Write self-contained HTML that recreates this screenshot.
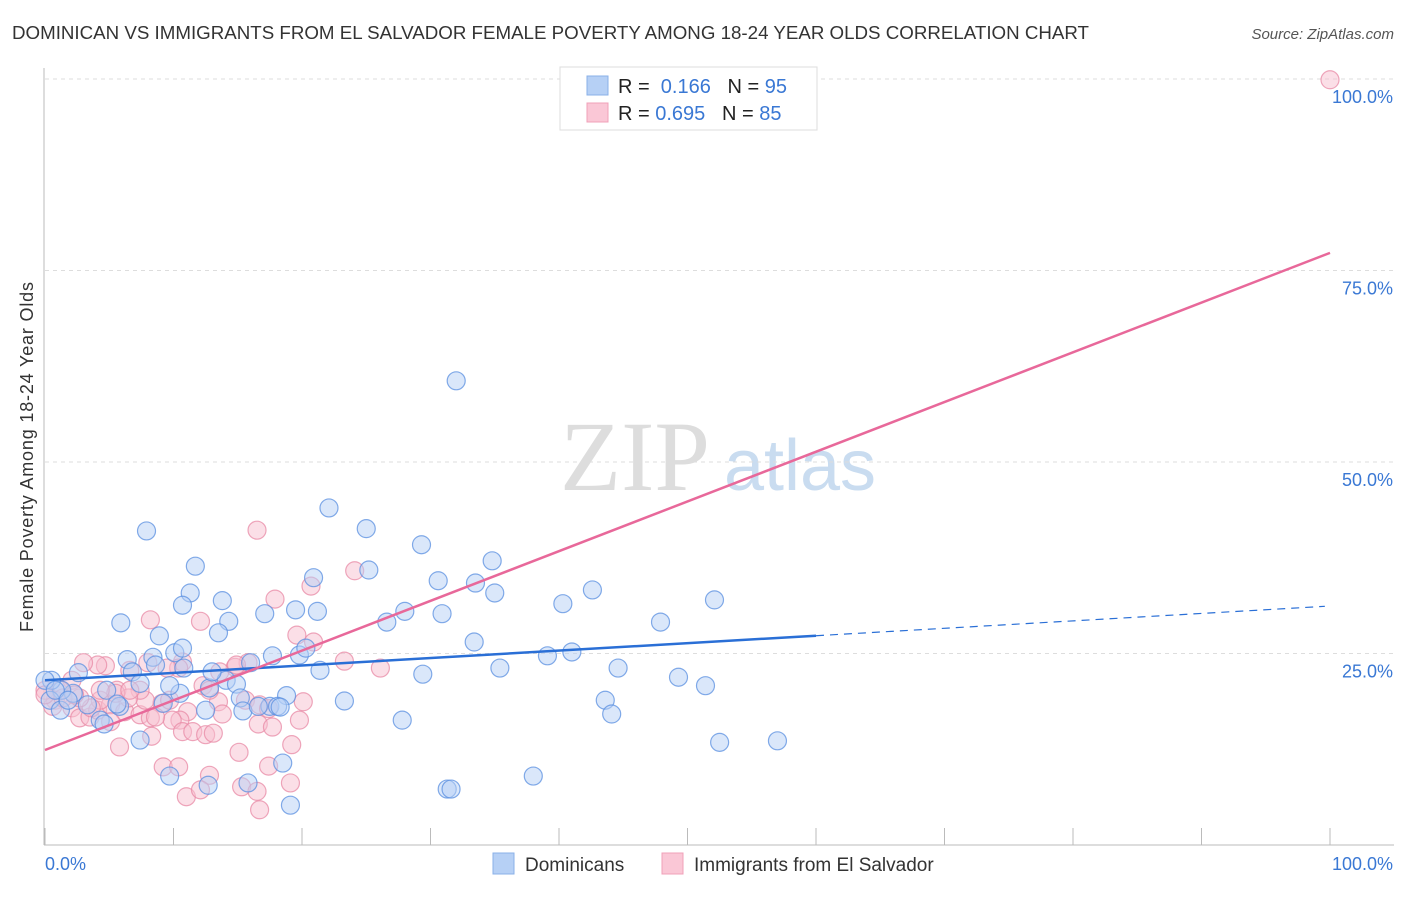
<!DOCTYPE html>
<html><head><meta charset="utf-8"><style>
body{margin:0;background:#fff;}
</style></head><body>
<svg id="chart" width="1406" height="892" viewBox="0 0 1406 892" font-family="Liberation Sans, sans-serif">
<text x="12" y="39" font-size="18" fill="#333" textLength="1077" lengthAdjust="spacingAndGlyphs">DOMINICAN VS IMMIGRANTS FROM EL SALVADOR FEMALE POVERTY AMONG 18-24 YEAR OLDS CORRELATION CHART</text>
<text x="1394" y="39" font-size="15" fill="#555" font-style="italic" text-anchor="end">Source: ZipAtlas.com</text>
<text x="33" y="457" font-size="18" fill="#333" text-anchor="middle" textLength="350" transform="rotate(-90 33 457)">Female Poverty Among 18-24 Year Olds</text>
<g>
<text x="635" y="490" font-size="100" fill="#ddd" font-family="Liberation Serif, serif" text-anchor="middle">ZIP</text>
<text x="800" y="490" font-size="72" fill="#c9dcf0" text-anchor="middle">atlas</text>
</g>
<g id="grid"></g><g id="axes"></g><g id="pts"></g><g id="lines"></g>
<g>
<rect x="560" y="67" width="257" height="63" fill="#fff" stroke="#ddd"/>
<rect x="587" y="76" width="21" height="19" fill="#b6d0f5" stroke="#8ab0e8"/>
<rect x="587" y="103" width="21" height="19" fill="#fac7d6" stroke="#f0a0b8"/>
<text x="618" y="93" font-size="20" fill="#222">R = <tspan fill="#3a78d4">&#160;0.166</tspan>&#160;&#160;&#160;N = <tspan fill="#3a78d4">95</tspan></text>
<text x="618" y="120" font-size="20" fill="#222">R = <tspan fill="#3a78d4">0.695</tspan>&#160;&#160;&#160;N = <tspan fill="#3a78d4">85</tspan></text>
</g>
<g>
<rect x="493" y="853" width="21" height="21" fill="#b6d0f5" stroke="#8ab0e8"/>
<text x="525" y="871" font-size="19" fill="#333">Dominicans</text>
<rect x="662" y="853" width="21" height="21" fill="#fac7d6" stroke="#f0a0b8"/>
<text x="694" y="871" font-size="19" fill="#333">Immigrants from El Salvador</text>
</g>
</svg>
<script>
const blueX=[7.9,11.7,11.3,10.7,13.8,14.3,13.5,5.9,8.9,6.4,8.4,10.1,10.8,8.6,6.8,7.4,4.8,2.6,2.2,1.3,0.5,0.4,1.2,3.3,4.3,4.6,5.8,5.6,7.4,9.7,10.5,9.2,12.5,12.8,14.1,14.9,13.0,15.2,15.4,16.0,17.1,17.7,18.8,17.5,18.1,18.3,16.6,19.8,20.3,19.5,20.9,21.2,21.4,22.1,23.3,25.0,25.2,26.6,28.0,29.3,30.6,30.9,32.0,33.4,33.5,34.8,35.0,35.4,29.4,27.8,39.1,40.3,41.0,42.6,43.6,44.1,44.6,47.9,49.3,51.4,52.1,52.5,57.0,38.0,31.3,31.6,19.1,18.5,15.8,12.7,10.7,9.7,0.0,0.8,1.8];
const blueY=[41.0,36.4,32.9,31.3,31.9,29.2,27.7,29.0,27.3,24.2,24.5,25.1,23.1,23.5,22.6,21.1,20.2,22.5,19.8,20.2,21.5,18.9,17.6,18.3,16.3,15.8,18.1,18.4,13.7,9.0,19.8,18.5,17.6,20.5,21.5,21.0,22.6,19.2,17.5,23.8,30.2,24.7,19.5,18.1,18.1,18.0,18.1,24.8,25.7,30.7,34.9,30.5,22.8,44.0,18.8,41.3,35.9,29.1,30.5,39.2,34.5,30.2,60.6,26.5,34.2,37.1,32.9,23.1,22.3,16.3,24.7,31.5,25.2,33.3,18.9,17.1,23.1,29.1,21.9,20.8,32.0,13.4,13.6,9.0,7.3,7.3,5.2,10.7,8.1,7.8,25.7,20.8,21.5,20.2,18.9];
const pinkX=[100,16.5,24.1,20.7,17.9,8.2,12.1,19.6,20.9,23.3,26.1,15.8,14.8,13.6,12.3,10.7,10.4,9.5,8.0,6.6,5.6,4.7,4.1,3.0,2.1,1.2,0.8,0.6,2.1,2.7,3.5,4.1,5.1,6.2,7.4,8.2,9.1,11.1,13.5,15.6,16.7,17.4,10.5,9.9,8.6,7.8,7.4,6.5,5.5,4.3,3.6,2.7,1.4,10.7,11.5,12.5,13.1,13.8,8.3,5.8,5.1,9.2,10.4,12.8,11.0,12.1,15.1,16.6,17.7,19.8,20.1,19.2,17.4,15.3,16.5,16.7,19.1,14.9,12.8,9.7,6.6,4.3,2.3,0,0];
const pinkY=[99.9,41.1,35.8,33.8,32.1,29.4,29.2,27.4,26.5,24.0,23.1,23.8,23.2,22.6,20.8,23.9,23.1,23.1,23.8,22.8,20.2,23.4,23.5,23.8,21.5,20.2,18.9,18.1,17.9,16.6,16.7,17.6,18.3,17.4,17.0,16.6,18.5,17.4,18.7,18.9,18.3,17.8,16.3,16.3,16.7,18.9,20.2,19.2,19.8,18.9,17.9,19.2,19.2,14.8,14.8,14.4,14.6,17.1,14.2,12.8,16.1,10.2,10.2,9.1,6.3,7.2,12.1,15.8,15.4,16.3,18.7,13.1,10.3,7.6,7.0,4.6,8.1,23.5,20.2,18.9,20.2,20.2,19.6,20.2,19.6];
const blueTrend=[21.5,31.2];
const blueSolidEnd=60;
const pinkTrend=[12.4,77.3];
const yTicks=[25,50,75,100];
const yTickLabels=["25.0%","50.0%","75.0%","100.0%"];
const xTicks=[0,10,20,30,40,50,60,70,80,90,100];

const NS="http://www.w3.org/2000/svg";
const X=v=>45+v*12.85, Y=v=>845-v*7.66;
function mk(t,a,p){const e=document.createElementNS(NS,t);for(const k in a)e.setAttribute(k,a[k]);p.appendChild(e);return e;}
const grid=document.getElementById('grid'),axes=document.getElementById('axes'),pts=document.getElementById('pts'),lines=document.getElementById('lines');
yTicks.forEach((v,i)=>{
 const g=mk('line',{x1:45,x2:1394,y1:Y(v),y2:Y(v),stroke:'#ddd','stroke-dasharray':'4,4'},grid);
 
 
 const t=mk('text',{x:1393,y:Y(v)+24,'font-size':18,fill:'#3a78d4','text-anchor':'end'},axes);
 t.textContent=yTickLabels[i];
 
 
});
const ax=mk('line',{x1:44,x2:44,y1:68,y2:845,stroke:'#bbb'},axes);


const bx=mk('line',{x1:44,x2:1394,y1:845,y2:845,stroke:'#bbb'},axes);


xTicks.forEach(v=>{const t=mk('line',{x1:X(v),x2:X(v),y1:828,y2:845,stroke:'#bbb'},axes);
 
 });
const l0=mk('text',{x:45,y:870,'font-size':18,fill:'#3a78d4'},axes);l0.textContent='0.0%';


const l1=mk('text',{x:1393,y:870,'font-size':18,fill:'#3a78d4','text-anchor':'end'},axes);l1.textContent='100.0%';


function dots(xs,ys,fill,stroke,name){xs.forEach((x,i)=>{
 const c=mk('circle',{cx:X(x),cy:Y(ys[i]),r:9,fill:fill,'fill-opacity':0.5,stroke:stroke,'stroke-width':1.2,'stroke-opacity':0.75},pts);
 
 });}
dots(pinkX,pinkY,'#f8bfd0','#e88aa6','point-el-salvador');
dots(blueX,blueY,'#b6d0f5','#5a8fe0','point-dominican');
const bAt=x=>blueTrend[0]+(blueTrend[1]-blueTrend[0])*x/100;
const b1=mk('line',{x1:X(0),y1:Y(bAt(0)),x2:X(blueSolidEnd),y2:Y(bAt(blueSolidEnd)),stroke:'#2a6fd6','stroke-width':2.5},lines);


const b2=mk('line',{x1:X(blueSolidEnd),y1:Y(bAt(blueSolidEnd)),x2:X(99.6),y2:Y(bAt(99.6)),stroke:'#2a6fd6','stroke-width':1.2,'stroke-dasharray':'8,6'},lines);


const p1=mk('line',{x1:X(0),y1:Y(pinkTrend[0]),x2:X(100),y2:Y(pinkTrend[1]),stroke:'#e8689a','stroke-width':2.5},lines);


</script>
</body></html>
